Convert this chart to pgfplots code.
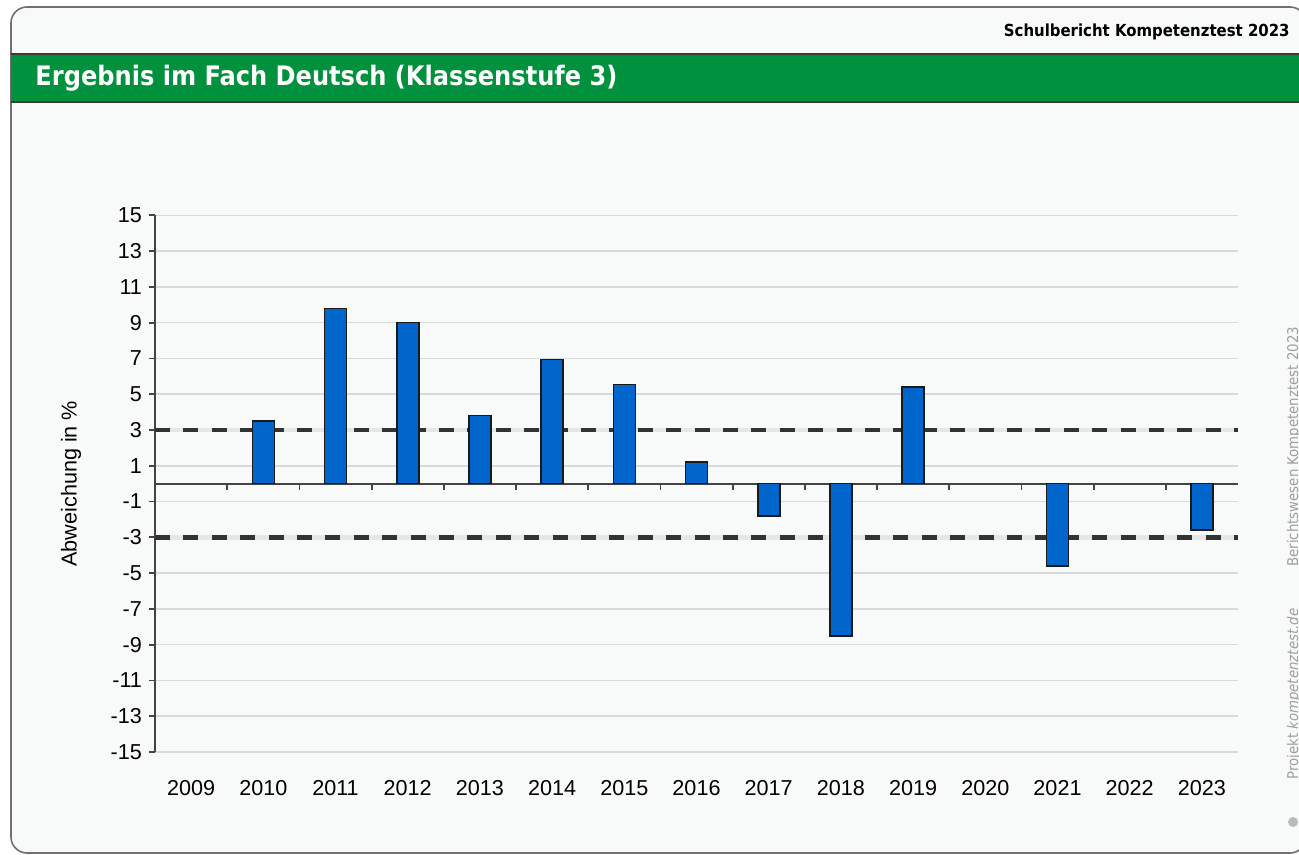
\documentclass[border=0pt]{standalone}
\usepackage{fontspec}
\setmainfont{Liberation Sans}
\newfontfamily\headfont{DejaVu Sans Condensed}
\usepackage{pgfplots}
\pgfplotsset{compat=1.18}
\definecolor{framebg}{HTML}{F8F9F9}
\definecolor{framegray}{HTML}{707070}
\definecolor{bannergreen}{HTML}{00913E}
\definecolor{bannerline}{HTML}{3A3A3A}
\definecolor{barblue}{HTML}{0066CC}
\definecolor{bardark}{HTML}{1A1A1A}
\definecolor{gridgray}{HTML}{D9D9D9}
\definecolor{axisgray}{HTML}{444444}
\definecolor{dashgray}{HTML}{333333}
\definecolor{bandgray}{HTML}{E6E6E6}
\definecolor{sidegray}{HTML}{9E9E9E}
\begin{document}
\begin{tikzpicture}
\useasboundingbox (0,0) rectangle (649.5pt,-427.5pt);
\fill[white] (0,0) rectangle (649.5pt,-427.5pt);
\begin{scope}[x=0.5pt,y=-0.5pt]
  \draw[fill=framebg, draw=framegray, line width=0.8pt, rounded corners=8pt] (11,7) rectangle (1306,853);
  \fill[bannergreen] (11,54) rectangle (1306,102);
  \draw[bannerline, line width=0.8pt] (11,54) -- (1306,54);
  \draw[bannerline, line width=0.8pt] (11,102) -- (1306,102);
  \node[anchor=east, inner sep=0pt, font=\headfont\bfseries\fontsize{8.3}{10}\selectfont] at (1290,32) {Schulbericht Kompetenztest 2023};
  \node[anchor=west, inner sep=0pt, text=white, font=\headfont\bfseries\fontsize{13.4}{16}\selectfont] at (35,78) {Ergebnis im Fach Deutsch (Klassenstufe 3)};
  \node[rotate=90, anchor=west, inner sep=0pt, text=sidegray, font=\headfont\fontsize{7.4}{9}\selectfont] at (1294,780) {Projekt \textit{kompetenztest.de}};
  \node[rotate=90, anchor=west, inner sep=0pt, text=sidegray, font=\headfont\fontsize{7.4}{9}\selectfont] at (1294,567) {Berichtswesen Kompetenztest 2023};
  \fill[sidegray!70] (1293,822) circle (5);
\end{scope}
\begin{axis}[
  at={(77.5pt,-376pt)}, anchor=south west,
  scale only axis, width=541.5pt, height=268.35pt,
  xmin=-0.5, xmax=14.5, ymin=-15, ymax=15,
  axis x line=middle, axis y line=left,
  axis line style={-, draw=axisgray, line width=0.9pt},
  hide obscured x ticks=false, hide obscured y ticks=false,
  tick align=outside, major tick length=3pt, minor tick length=3pt,
  ytick={-15,-13,...,15},
  ymajorgrids, grid style={draw=gridgray, line width=0.75pt},
  xtick={0,...,14},
  xticklabels={2009,2010,2011,2012,2013,2014,2015,2016,2017,2018,2019,2020,2021,2022,2023},
  minor x tick num=1,
  major x tick style={draw=none},
  minor x tick style={draw=axisgray, line width=0.9pt},
  ytick style={draw=axisgray, line width=0.9pt},
  tick label style={font=\fontsize{10.8}{13}\selectfont},
  /pgf/number format/assume math mode=true,
  xticklabel style={anchor=center, yshift=-149.2pt},
  every axis y label/.style={at={(axis description cs:-0.0775,0.5)}, rotate=90, anchor=center},
  ylabel={Abweichung in \%},
  label style={font=\fontsize{10.8}{13}\selectfont},
  clip=false,
]
\addplot[sharp plot, draw=bandgray, line width=2.25pt, forget plot] coordinates {(-0.5,3) (14.5,3)};
\addplot[sharp plot, draw=bandgray, line width=2.25pt, forget plot] coordinates {(-0.5,-3) (14.5,-3)};
\addplot[sharp plot, draw=dashgray, line width=2.25pt, dash pattern=on 7.5pt off 6.7pt, forget plot] coordinates {(-0.5,3) (14.5,3)};
\addplot[sharp plot, draw=dashgray, line width=2.25pt, dash pattern=on 7.5pt off 6.7pt, forget plot] coordinates {(-0.5,-3) (14.5,-3)};
\addplot[ybar, bar width=11pt, fill=barblue, draw=bardark, line width=0.8pt] coordinates {
  (1,3.5) (2,9.8) (3,9.0) (4,3.8) (5,6.95) (6,5.55) (7,1.2) (8,-1.8) (9,-8.5) (10,5.4) (12,-4.6) (14,-2.6)
};
\end{axis}
\end{tikzpicture}
\end{document}
